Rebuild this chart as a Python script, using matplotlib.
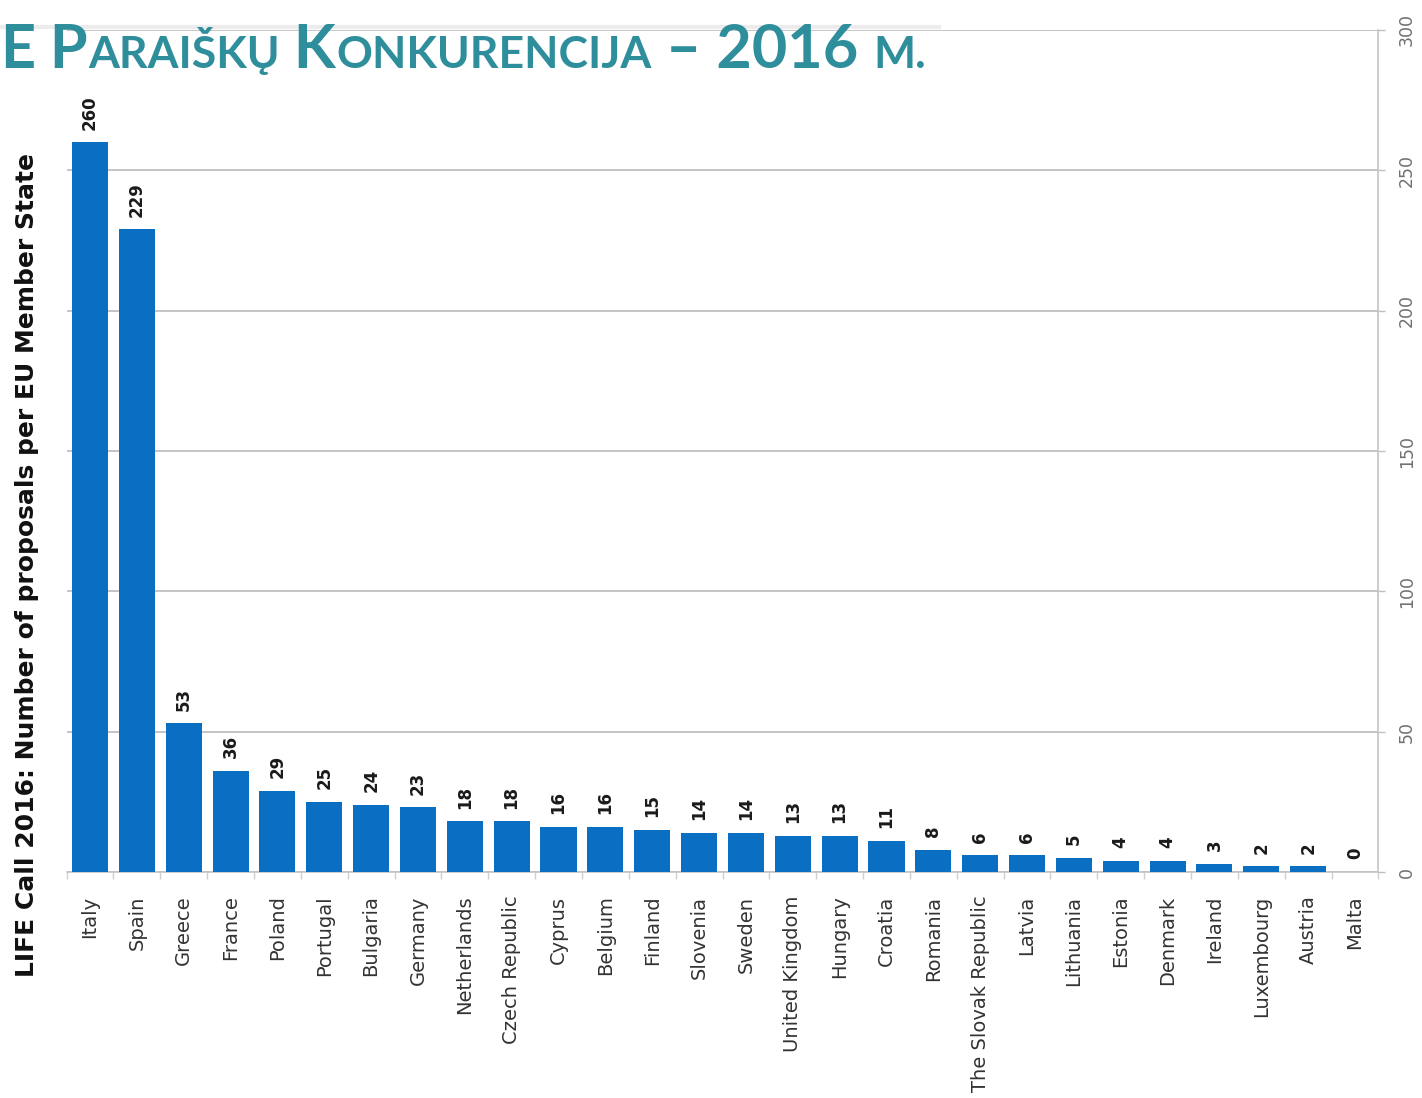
import numpy as np
import matplotlib
matplotlib.use("Agg")
import matplotlib.pyplot as plt

# ---- Data ---- #
countries = ["Italy", "Spain", "Greece", "France", "Poland", "Portugal",
             "Bulgaria", "Germany", "Netherlands", "Czech Republic", "Cyprus",
             "Belgium", "Finland", "Slovenia", "Sweden", "United Kingdom",
             "Hungary", "Croatia", "Romania", "The Slovak Republic", "Latvia",
             "Lithuania", "Estonia", "Denmark", "Ireland", "Luxembourg",
             "Austria", "Malta"]
proposals = [260, 229, 53, 36, 29, 25, 24, 23, 18, 18, 16, 16, 15, 14, 14,
             13, 13, 11, 8, 6, 6, 5, 4, 4, 3, 2, 2, 0]
yticks = [0, 50, 100, 150, 200, 250, 300]

ylabel = "LIFE Call 2016: Number of proposals per EU Member State"
# title pieces: (text, is_big_cap)
title_parts = [("E", True), (" P", True), ("ARAIŠKŲ", False), (" K", True),
               ("ONKURENCIJA", False), (" – 2016 ", True), ("M.", False)]

# ---- Figure ---- #
W, H = 1422, 1098
fig = plt.figure(figsize=(W / 100, H / 100), dpi=100)
ax = fig.add_axes([66.6 / W, 1 - 872 / H, (1378.4 - 66.6) / W, (872 - 30) / H])

x = np.arange(len(countries))
ax.bar(x, proposals, width=0.77, color="#0a6fc2", zorder=3)

for xi, v in zip(x, proposals):
    ax.text(xi, v + 4.5, str(v), rotation=90, ha="center", va="bottom",
            fontsize=12, fontweight="bold", color="#1a1a1a")

ax.set_xlim(-0.5, len(countries) - 0.5)
ax.set_ylim(0, 300)
ax.set_yticks(yticks)
ax.yaxis.tick_right()
ax.set_yticklabels([str(t) for t in yticks], rotation=90, va="center",
                   fontsize=12.5, color="#707070")
ax.tick_params(axis="y", length=5, width=1, color="#bfbfbf", pad=9)

ax.set_xticks(x)
ax.set_xticklabels(countries, rotation=90, ha="center", va="top",
                   fontsize=14, color="#333333")
ax.tick_params(axis="x", length=0, pad=17)
ax.set_xticks(np.arange(-0.5, len(countries), 1), minor=True)
ax.tick_params(axis="x", which="minor", length=5, width=1, color="#d0d0d0")

ax.grid(axis="y", color="#c4c4c4", linewidth=1.4, zorder=0)
for side in ["top", "left"]:
    ax.spines[side].set_visible(False)
ax.spines["right"].set_color("#c4c4c4")
ax.spines["right"].set_linewidth(1.2)
ax.spines["bottom"].set_color("#c4c4c4")
ax.spines["bottom"].set_linewidth(1.2)

fig.text(27 / W, 1 - 565 / H, ylabel, rotation=90, ha="center", va="center",
         fontsize=18, fontweight="bold", color="#111111")

# ---- Title (small caps built from pieces) ---- #
fig.add_artist(plt.Line2D([0, 0.66], [1 - 27 / H, 1 - 27 / H],
                          transform=fig.transFigure, color="#ececec",
                          linewidth=3, zorder=0))
renderer = fig.canvas.get_renderer()
xpos = 0.0
for txt, big in title_parts:
    t = fig.text(xpos, 1 - 68 / H, txt, fontsize=44 if big else 32,
                 fontweight="bold", color="#2f8e9b",
                 family=["Lato", "DejaVu Sans"], ha="left", va="baseline")
    bb = t.get_window_extent(renderer)
    xpos += bb.width / W

fig.savefig("out.png", dpi=100)
